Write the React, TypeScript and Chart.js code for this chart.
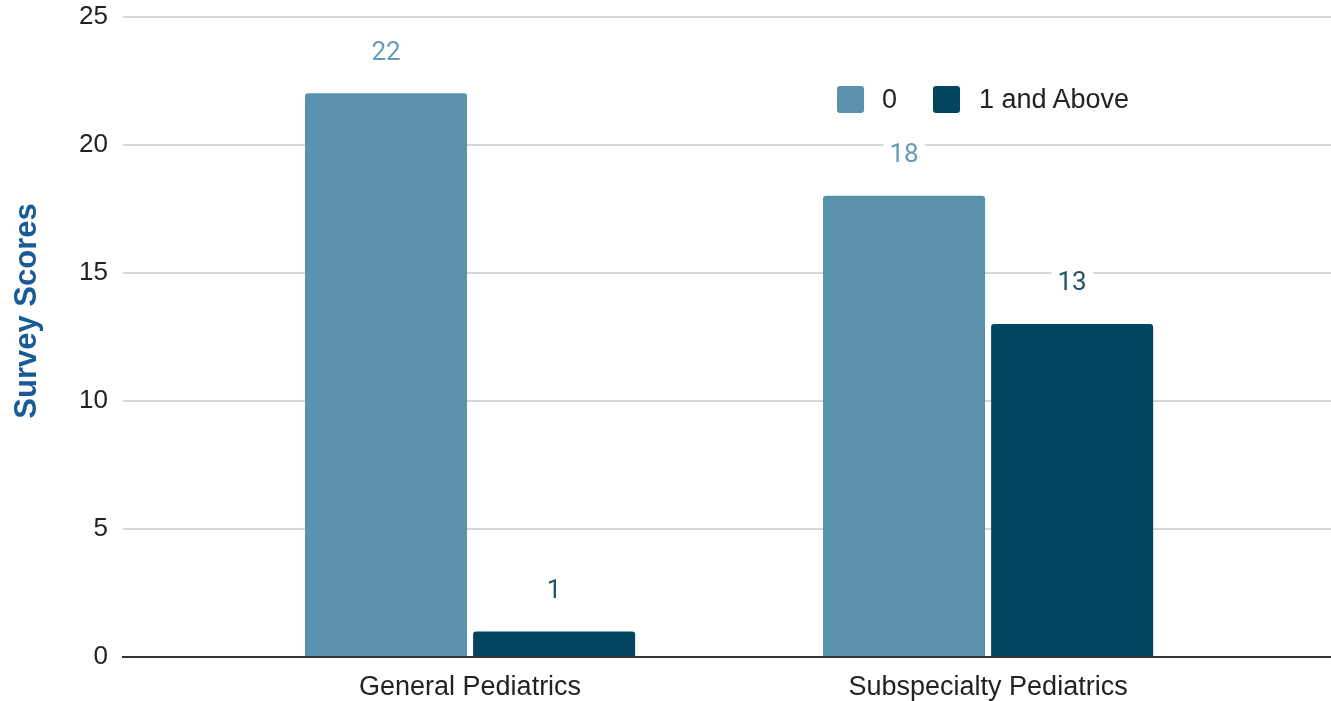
import { useRef, useEffect } from "react";
import { Chart, registerables } from "chart.js";

Chart.register(...registerables);

const categories = ["General Pediatrics", "Subspecialty Pediatrics"];
const seriesNames = ["0", "1 and Above"];
const zeroScores = [22, 18];
const oneAndAboveScores = [1, 13];
const yTicks = [0, 5, 10, 15, 20, 25];

const barColors = ["#5a92ae", "#03455f"];
const labelColors = ["#6a9bb5", "#24546b"];
const FONT = "'Liberation Sans', Arial, sans-serif";

// value labels above each bar, on a white patch that breaks the grid line
const valueLabels = {
  id: "valueLabels",
  afterDatasetsDraw(chart: Chart) {
    const ctx = chart.ctx;
    ctx.save();
    ctx.font = `26px Roboto, ${FONT}`;
    ctx.textAlign = "center";
    ctx.textBaseline = "middle";
    chart.data.datasets.forEach((ds, di) => {
      const meta = chart.getDatasetMeta(di);
      meta.data.forEach((bar, i) => {
        const point = ds.data[i] as { y: number };
        const text = String(point.y);
        const cy = bar.y - 40;
        const w = ctx.measureText(text).width + 12;
        ctx.fillStyle = "#ffffff";
        ctx.fillRect(bar.x - w / 2, cy - 18, w, 30);
        ctx.fillStyle = labelColors[di];
        ctx.fillText(text, bar.x, cy);
      });
    });
    ctx.restore();
  },
};

// y axis title sits a little above the plot's middle, as in the source
const yTitle = {
  id: "yTitle",
  afterDraw(chart: Chart) {
    const ctx = chart.ctx;
    ctx.save();
    ctx.translate(36, 311);
    ctx.rotate(-Math.PI / 2);
    ctx.font = `bold 31px ${FONT}`;
    ctx.fillStyle = "#1a5a96";
    ctx.textAlign = "center";
    ctx.textBaseline = "alphabetic";
    ctx.fillText("Survey Scores", 0, 0);
    ctx.restore();
  },
};

function Legend() {
  const box = (left: number, color: string) => (
    <div
      style={{
        position: "absolute",
        left,
        top: 86,
        width: 27,
        height: 27,
        borderRadius: 3,
        background: color,
      }}
    />
  );
  const label = (left: number, text: string) => (
    <div
      style={{
        position: "absolute",
        left,
        top: 84,
        height: 31,
        lineHeight: "31px",
        font: `27px ${FONT}`,
        color: "#222",
        whiteSpace: "nowrap",
      }}
    >
      {text}
    </div>
  );
  return (
    <>
      {box(837, barColors[0])}
      {label(882, seriesNames[0])}
      {box(933, barColors[1])}
      {label(979, seriesNames[1])}
    </>
  );
}

export default function App() {
  const canvasRef = useRef<HTMLCanvasElement>(null);

  useEffect(() => {
    if (!canvasRef.current) return;
    const chart = new Chart(canvasRef.current, {
      type: "bar",
      data: {
        datasets: [zeroScores, oneAndAboveScores].map((values, di) => ({
          label: seriesNames[di],
          data: values.map((v, i) => ({ x: i, y: v })),
          backgroundColor: barColors[di],
          borderRadius: 3,
          borderSkipped: "start" as const,
          categoryPercentage: 0.649,
          barPercentage: 0.964,
        })),
      },
      options: {
        animation: false,
        responsive: true,
        maintainAspectRatio: false,
        layout: { padding: { top: 16.5, left: 0, right: 0, bottom: 0 } },
        plugins: {
          legend: { display: false },
          tooltip: { enabled: false },
        },
        scales: {
          x: {
            type: "linear",
            offset: false,
            min: -0.67,
            max: 1.662,
            afterBuildTicks: (scale) => {
              scale.ticks = categories.map((_, i) => ({ value: i }));
            },
            afterFit: (scale) => {
              scale.height = 44;
              scale.paddingLeft = 0;
              scale.paddingRight = 0;
            },
            grid: { display: false, offset: false },
            border: { display: true, color: "#333333", width: 2 },
            ticks: {
              autoSkip: false,
              maxRotation: 0,
              padding: 6,
              color: "#222",
              font: { family: FONT, size: 27 },
              callback: (v) => categories[Number(v)] ?? "",
            },
          },
          y: {
            min: 0,
            max: 25,
            afterBuildTicks: (scale) => {
              scale.ticks = yTicks.map((v) => ({ value: v }));
            },
            afterFit: (scale) => {
              scale.width = 123;
              scale.paddingTop = 0;
              scale.paddingBottom = 0;
            },
            grid: { color: "#d6d6d6", lineWidth: 2, drawTicks: false },
            border: { display: false },
            ticks: {
              padding: 15,
              color: "#222",
              font: { family: FONT, size: 26 },
            },
          },
        },
      },
      plugins: [valueLabels, yTitle],
    });
    return () => chart.destroy();
  }, []);

  return (
    <div
      style={{
        position: "fixed",
        left: 0,
        top: 0,
        width: "100vw",
        height: "100vh",
        background: "#fff",
      }}
    >
      <canvas ref={canvasRef} />
      <Legend />
    </div>
  );
}
